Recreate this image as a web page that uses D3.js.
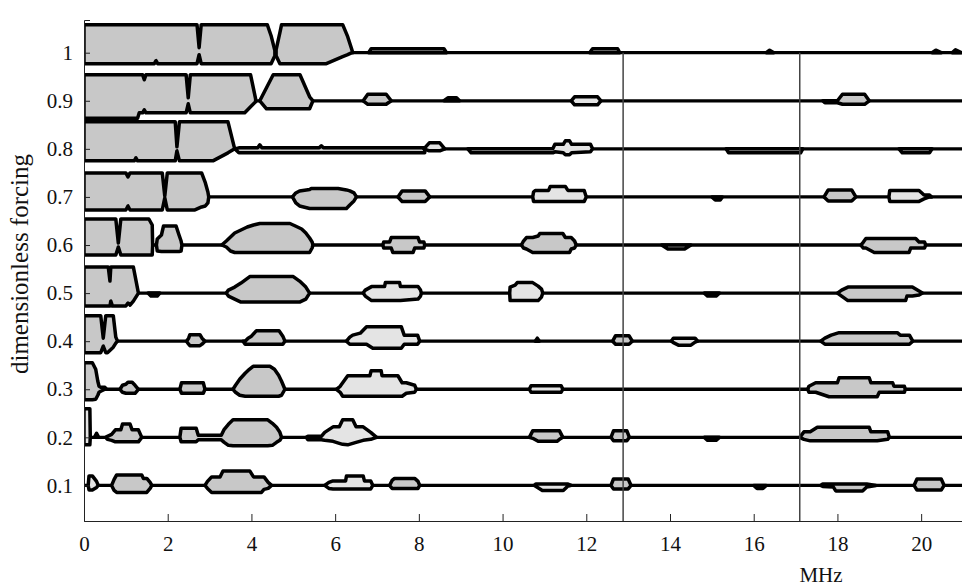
<!DOCTYPE html>
<html><head><meta charset="utf-8">
<script src="https://cdn.jsdelivr.net/npm/d3@7"></script>
<style>body{margin:0;background:#fff}svg{display:block}</style>
</head><body><svg id="c" width="962" height="586"></svg>
<script>
// forcing levels (one baseline per level)
const levels = [1.0, 0.9, 0.8, 0.7, 0.6, 0.5, 0.4, 0.3, 0.2, 0.1];
const yTicks = [0.1, 0.2, 0.3, 0.4, 0.5, 0.6, 0.7, 0.8, 0.9, 1];
const xTicks = [0, 2, 4, 6, 8, 10, 12, 14, 16, 18, 20];
const markers = [12.88, 17.1];
// each blob: f = fill class (g = grey, l = light), p = [MHz, amplitude above, amplitude below]
const blobs10 = [
 {f:"g",p:[[0,28,11],[1.68,28,11],[1.72,28,8],[1.76,28,11],[2.70,28,11],[2.75,5,2],[2.80,28,11],[4.38,28,11],[4.47,17,11],[4.56,2,3]]},
 {f:"g",p:[[4.59,3,3],[4.68,20,11],[4.72,28,11],[5.79,28,11],[6.18,28,4],[6.3,16,2],[6.4,3,0],[6.42,0,0]]},
 {f:"g",p:[[6.8,0,0],[6.86,4,0],[8.6,4,0],[8.66,0,0]]},
 {f:"g",p:[[12.08,0,0],[12.15,4,0],[12.75,4,0],[12.8,0,0]]},
 {f:"g",p:[[16.3,0,0],[16.38,2.5,0],[16.48,0,0]]},
 {f:"g",p:[[20.26,0,0],[20.35,2.5,0],[20.48,0,0]]},
 {f:"g",p:[[20.74,0,0],[20.82,3,0],[20.96,0,0]]}
];
const blobs09 = [
 {f:"g",p:[[0,26,17.5],[1.28,26,17.5],[1.32,26,12],[1.40,26,12],[1.44,21,9],[1.48,26,12],[2.44,26,12],[2.49,3,3],[2.54,26,12],[3.84,26,12],[3.98,26,6],[4.1,2,1]]},
 {f:"g",p:[[4.2,0,0],[4.36,13,8],[4.52,26,8],[5.16,26,8],[5.39,4,8],[5.47,0,0]]},
 {f:"g",p:[[6.67,0,0],[6.78,6.5,3.5],[7.22,6.5,3.5],[7.34,0,0]]},
 {f:"g",p:[[8.6,0,0],[8.7,3,0],[8.9,3,0],[8.97,0,0]]},
 {f:"l",p:[[11.64,0,0],[11.72,4,4],[12.27,4,4],[12.35,0,0]]},
 {f:"g",p:[[17.65,0,0],[17.7,0,2],[18.0,0,2],[18.12,6.5,3.5],[18.65,6.5,3.5],[18.76,0,0]]}
];
const blobs08 = [
 {f:"g",p:[[0,27,12],[1.2,27,12],[1.24,27,9],[1.28,27,12],[2.18,27,12],[2.22,2,2],[2.28,27,12],[3.08,27,12],[3.44,27,4],[3.6,0,0]]},
 {f:"g",p:[[3.6,0,0],[3.7,1,4],[4.15,1,4],[4.2,4,4],[4.25,1,4],[5.62,1,4],[5.67,3,4],[5.72,1,4],[8.14,1,4]]},
 {f:"l",p:[[8.12,0,0],[8.25,6,2],[8.5,6,2],[8.62,0,0]]},
 {f:"l",p:[[9.17,0,0],[9.25,0,4],[11.2,0,4],[11.25,4.5,3],[11.45,4.5,4],[11.5,8,6],[11.6,8,6],[11.65,4.5,4],[12.1,4.5,3],[12.15,0,0]]},
 {f:"g",p:[[15.34,0,0],[15.4,0,4],[17.12,0,4],[17.17,0,0]]},
 {f:"g",p:[[19.47,0,0],[19.55,0,4],[20.2,0,4],[20.26,0,0]]}
];
const blobs07 = [
 {f:"g",p:[[0,24,13],[1.0,24,13],[1.05,20,9],[1.1,24,13],[1.87,24,13],[1.93,1,1],[1.99,24,13],[2.65,24,13],[2.81,24,10],[2.9,14,9],[2.96,5,6],[2.98,0,0]]},
 {f:"g",p:[[4.98,0,0],[5.06,4,6],[5.15,6,9],[5.39,7.5,11.5],[5.43,8.5,11.5],[6.07,8.5,11.5],[6.27,7,11.5],[6.35,6,8],[6.45,4,4],[6.51,0,0]]},
 {f:"g",p:[[7.5,0,0],[7.6,6,4.5],[8.15,6,4.5],[8.26,0,0]]},
 {f:"l",p:[[10.72,0,0],[10.74,5,4.5],[10.78,6.5,4.5],[11.1,6.5,4.5],[11.14,10.5,4.5],[11.5,10.5,4.5],[11.56,6.5,4.5],[11.95,6.5,4.5],[12.0,0,0]]},
 {f:"g",p:[[15.0,0,0],[15.08,0,3],[15.2,0,3],[15.25,0,0]]},
 {f:"g",p:[[17.68,0,0],[17.78,7,4],[18.34,7,4],[18.44,0,0]]},
 {f:"l",p:[[19.23,0,0],[19.25,6.5,4.5],[19.95,6.5,4.5],[20.07,2,2],[20.2,2,0],[20.25,0,0]]}
];
const blobs06 = [
 {f:"g",p:[[0,26,10],[0.76,26,10],[0.82,2,2],[0.88,26,10],[1.55,26,10],[1.63,20,10],[1.64,0,0]]},
 {f:"g",p:[[1.73,0,0],[1.75,6,6],[1.85,10,6.5],[1.9,19,6.5],[2.2,19,6.5],[2.27,10,6.5],[2.32,4,6],[2.34,0,0]]},
 {f:"g",p:[[3.29,0,0],[3.4,4,2],[3.5,8,6],[3.6,12,7.5],[3.75,15,7.5],[3.9,18,7.5],[4.05,20,7.5],[4.2,21.5,7.5],[4.92,21.5,7.5],[5.05,19,7.5],[5.2,16,7.5],[5.3,12,7.5],[5.39,7,7.5],[5.45,3,3],[5.47,0,0]]},
 {f:"g",p:[[7.14,0,0],[7.16,3,3],[7.3,3,3],[7.34,7.5,3],[7.38,7.5,7.5],[7.86,7.5,7.5],[7.9,7.5,3],[7.98,7.5,3],[8.02,3,3],[8.12,3,3],[8.14,0,0]]},
 {f:"g",p:[[10.45,0,0],[10.5,4,3],[10.57,7.5,4],[10.72,7.5,7.5],[10.85,9,7.5],[10.89,11.5,7.5],[11.44,11.5,7.5],[11.5,7.5,7.5],[11.6,7.5,7.5],[11.64,7.5,4],[11.72,4,3],[11.76,0,0]]},
 {f:"g",p:[[13.8,0,0],[13.95,0,4],[14.35,0,4],[14.5,0,0]]},
 {f:"g",p:[[18.56,0,0],[18.62,3,3],[18.68,6.5,3],[18.88,6.5,7.5],[19.71,6.5,7.5],[19.75,6.5,3],[19.87,6.5,3],[19.95,3,3],[20.08,3,3],[20.11,0,0]]}
];
const blobs05 = [
 {f:"g",p:[[0,26,13],[0.58,26,13],[0.62,12,13],[0.64,26,8],[0.68,26,13],[1.0,26,13],[1.05,26,10],[1.1,26,12],[1.18,26,8],[1.3,0,0]]},
 {f:"g",p:[[1.53,0,0],[1.6,0,3],[1.75,0,3],[1.81,0,0]]},
 {f:"g",p:[[3.4,0,0],[3.45,3,3],[3.6,6,6],[3.75,10,9],[3.96,16.5,9],[5.0,16.5,9],[5.15,12,9],[5.3,6,6],[5.39,0,0]]},
 {f:"l",p:[[6.67,0,0],[6.72,3,3],[6.87,6.5,7.5],[7.18,6.5,7.5],[7.2,10.5,7.5],[7.54,10.5,7.5],[7.56,6.5,7.5],[7.98,6.5,6],[8.04,3,3],[8.06,0,0]]},
 {f:"l",p:[[10.17,0,0],[10.18,6,7.5],[10.3,8,7.5],[10.35,10.5,7.5],[10.72,10.5,7.5],[10.85,7,7.5],[10.93,4,4],[10.96,0,0]]},
 {f:"g",p:[[14.82,0,0],[14.9,0,3],[15.1,0,3],[15.18,0,0]]},
 {f:"g",p:[[18.0,0,0],[18.1,3,3],[18.25,6,7.5],[19.63,6,7.5],[19.66,6,3],[19.79,6,3],[19.95,2,2],[20.03,0,0]]}
];
const blobs04 = [
 {f:"g",p:[[0,25.5,11.5],[0.4,25.5,11.5],[0.46,3,5],[0.52,25.5,11.5],[0.56,25.5,11.5],[0.7,25.5,6],[0.76,4,2],[0.8,0,0]]},
 {f:"g",p:[[2.45,0,0],[2.5,3,3],[2.53,6.5,4.5],[2.77,6.5,4.5],[2.82,3,3],[2.89,0,0]]},
 {f:"g",p:[[3.8,0,0],[3.85,0,3],[3.92,3,3],[4.0,5,3],[4.12,10.5,3],[4.66,10.5,3],[4.75,5,3],[4.8,0,0]]},
 {f:"l",p:[[6.27,0,0],[6.35,4,3],[6.42,6,3],[6.6,8,3],[6.75,14.5,3],[6.9,14.5,7],[7.58,14.5,7],[7.65,6,3],[7.97,6,3],[8.02,0,0]]},
 {f:"g",p:[[10.78,0,0],[10.83,3,0],[10.88,0,0]]},
 {f:"g",p:[[12.63,0,0],[12.7,5.5,3],[13.02,5.5,3],[13.1,0,0]]},
 {f:"l",p:[[14.03,0,0],[14.08,3,1.5],[14.2,3,4],[14.5,3,4],[14.6,3,1],[14.66,0,0]]},
 {f:"g",p:[[17.6,0,0],[17.7,3,3],[17.85,6,3],[18.04,8.5,3],[19.43,8.5,3],[19.5,6,3],[19.72,6,3],[19.8,0,0]]}
];
const blobs03 = [
 {f:"g",p:[[0,26.5,10.5],[0.2,26.5,10.5],[0.28,20,10],[0.33,8,6],[0.36,3,3],[0.4,2,2],[0.5,2,0],[0.54,0,0]]},
 {f:"g",p:[[0.86,0,0],[0.92,4,3],[1.0,5,4],[1.05,7,4],[1.15,7,4],[1.22,4,4],[1.3,0,0]]},
 {f:"g",p:[[2.29,0,0],[2.33,6.5,4],[2.85,6.5,4],[2.89,0,0]]},
 {f:"g",p:[[3.56,0,0],[3.62,4,3],[3.72,10,6],[3.85,16,7],[3.95,20,7],[4.04,23,7],[4.44,23,7],[4.55,20,7],[4.65,14,7],[4.72,8,6],[4.8,0,0]]},
 {f:"l",p:[[6.03,0,0],[6.12,3,3],[6.18,6.5,7],[6.3,13.5,7],[6.83,13.5,7],[6.86,18.5,7],[7.1,18.5,7],[7.12,13.5,7],[7.5,13.5,7],[7.6,6.5,7],[7.7,6.5,4],[7.9,4,3],[7.94,0,0]]},
 {f:"l",p:[[10.64,0,0],[10.68,3.5,3],[11.4,3.5,3],[11.44,0,0]]},
 {f:"g",p:[[17.29,0,0],[17.32,3,3],[17.48,6.5,3],[17.8,6.5,7.5],[18.0,6.5,7.5],[18.04,11.5,7.5],[18.76,11.5,7.5],[18.8,6.5,7.5],[18.95,6.5,7.5],[19.0,6.5,3],[19.32,6.5,3],[19.35,3,3],[19.6,3,3],[19.62,0,0]]}
];
const blobs02 = [
 {f:"l",p:[[0,28.5,7.5],[0.14,28.5,7.5],[0.15,0,0]]},
 {f:"g",p:[[0.25,0,0],[0.3,4,0],[0.35,0,0]]},
 {f:"g",p:[[0.52,0,0],[0.56,1,2],[0.66,3,3],[0.75,7.5,4.5],[0.88,7.5,4.5],[0.92,13.3,4.5],[1.1,13.3,4.5],[1.15,7.5,4.5],[1.3,7.5,4.5],[1.38,0,0]]},
 {f:"g",p:[[2.29,0,0],[2.32,9,4.5],[2.68,9,4.5],[2.73,2,2.5],[3.28,2,2.5],[3.35,8,5],[3.45,13,8],[3.56,17.5,8.5],[4.39,17.5,8.5],[4.5,14,8],[4.6,10,5],[4.68,5,3],[4.72,0,0]]},
 {f:"l",p:[[5.31,0,0],[5.35,1,2.5],[5.67,1,2.5],[5.75,5,3],[5.95,10.5,4],[6.1,10.5,6],[6.18,17.5,7],[6.3,17.5,7.5],[6.42,17.5,6],[6.5,10.5,5],[6.67,10.5,3],[6.85,5,2],[6.99,0,0]]},
 {f:"g",p:[[10.64,0,0],[10.72,6.5,1],[10.85,6.5,4],[11.3,6.5,4],[11.36,6.5,2],[11.44,0,0]]},
 {f:"g",p:[[12.59,0,0],[12.65,6.5,3.5],[12.97,6.5,3.5],[13.03,0,0]]},
 {f:"g",p:[[14.82,0,0],[14.9,0,3],[15.1,0,3],[15.18,0,0]]},
 {f:"g",p:[[17.1,0,0],[17.2,5.5,2],[17.35,5.5,3.5],[17.52,10,3.5],[18.76,10,3.5],[18.8,5.5,3.5],[18.95,5.5,3.5],[19.2,5.5,2],[19.24,0,0]]}
];
const blobs01 = [
 {f:"l",p:[[0.1,0,0],[0.12,9.5,4.5],[0.2,9.5,4.5],[0.3,4,2],[0.34,0,0]]},
 {f:"g",p:[[0.66,0,0],[0.72,6,5],[0.78,10.5,7],[1.38,10.5,7],[1.42,7,7],[1.5,7,7],[1.58,3,3],[1.62,0,0]]},
 {f:"g",p:[[2.89,0,0],[2.95,4,3],[3.05,8.5,7],[3.25,8.5,7],[3.32,14.5,7],[3.96,14.5,7],[4.05,8.5,7],[4.24,8.5,7],[4.3,8.5,4],[4.4,3,3],[4.48,0,0]]},
 {f:"l",p:[[5.75,0,0],[5.85,3,3],[5.95,4.5,3.5],[6.25,4.5,3.5],[6.27,9.5,3.5],[6.67,9.5,3.5],[6.7,4.5,3.5],[6.85,4.5,3.5],[6.9,0,0]]},
 {f:"g",p:[[7.3,0,0],[7.36,5,3],[7.42,7,3],[7.9,7,3],[7.98,4,3],[8.02,0,0]]},
 {f:"l",p:[[10.76,0,0],[10.8,1.5,1],[10.95,1.5,5],[11.45,1.5,5],[11.55,1.5,1],[11.64,0,0]]},
 {f:"g",p:[[12.59,0,0],[12.65,6.5,3.5],[13.0,6.5,3.5],[13.07,0,0]]},
 {f:"g",p:[[16.0,0,0],[16.08,0,3],[16.22,0,3],[16.3,0,0]]},
 {f:"g",p:[[17.6,0,0],[17.65,1.5,1],[17.9,1.5,1.5],[17.96,1.5,5.5],[18.6,1.5,5.5],[18.7,1.5,1.5],[18.92,0,0]]},
 {f:"g",p:[[19.83,0,0],[19.9,6.5,4.5],[20.48,6.5,4.5],[20.55,0,0]]}
];
const blobSets = [blobs10, blobs09, blobs08, blobs07, blobs06, blobs05, blobs04, blobs03, blobs02, blobs01];

const svg = d3.select("#c");
const x = d3.scaleLinear().domain([0, 21]).range([84, 963]);
const y = d3.scaleLinear().domain([0.026, 1.068]).range([521, 20]);
const K = 0.00208; // forcing units per amplitude unit
const fill = d3.scaleOrdinal().domain(["g", "l"]).range(["#c8c8c8", "#e4e4e4"]);
const font = "'Liberation Serif','Times New Roman',serif";

svg.append("defs").append("clipPath").attr("id", "plot")
  .append("rect").attr("x", x(0)).attr("y", 0).attr("width", x(21) - x(0)).attr("height", 586);

const g = svg.append("g").attr("clip-path", "url(#plot)");

// baselines
g.selectAll("line.base").data(levels).join("line")
  .attr("class", "base")
  .attr("x1", x(0)).attr("x2", x(21))
  .attr("y1", d => y(d)).attr("y2", d => y(d))
  .attr("stroke", "#000").attr("stroke-width", 3.3);

// blobs
levels.forEach((lv, i) => {
  const area = d3.area()
    .x(d => x(d[0]))
    .y0(d => y(lv - d[2] * K))
    .y1(d => y(lv + d[1] * K))
    .curve(d3.curveLinear);
  g.append("g").selectAll("path").data(blobSets[i]).join("path")
    .attr("d", d => area(d.p))
    .attr("fill", d => fill(d.f))
    .attr("stroke", "#000").attr("stroke-width", 3.5)
    .attr("stroke-linejoin", "round");
});

// marker lines
svg.selectAll("line.mark").data(markers).join("line")
  .attr("class", "mark")
  .attr("x1", d => x(d)).attr("x2", d => x(d))
  .attr("y1", y(1)).attr("y2", y(0.026))
  .attr("stroke", "#444").attr("stroke-width", 1.5);

// axes
const xAxis = d3.axisBottom(x).tickValues(xTicks).tickSize(-7).tickPadding(15).tickFormat(d3.format("d"));
const gx = svg.append("g").attr("transform", `translate(0,${y(0.026)})`).call(xAxis);
gx.select(".domain").attr("stroke", "#222");
gx.selectAll(".tick line").attr("stroke", "#222");
gx.selectAll("text").attr("font-family", font).attr("font-size", 21).attr("fill", "#111");

const yAxis = d3.axisLeft(y).tickValues(yTicks).tickSize(-6).tickPadding(11).tickFormat(d => d === 1 ? "1" : d3.format(".1f")(d));
const gy = svg.append("g").attr("transform", `translate(${x(0)},0)`).call(yAxis);
gy.select(".domain").attr("stroke", "#222");
gy.selectAll(".tick line").attr("stroke", "#222");
gy.selectAll("text").attr("font-family", font).attr("font-size", 21).attr("fill", "#111");

svg.append("text").attr("x", 821).attr("y", 582).attr("text-anchor", "middle")
  .attr("font-family", font).attr("font-size", 21).attr("fill", "#111").text("MHz");

svg.append("text").attr("transform", "translate(28,264) rotate(-90)").attr("text-anchor", "middle")
  .attr("font-family", font).attr("font-size", 25).attr("fill", "#111").text("dimensionless forcing");
</script></body></html>
